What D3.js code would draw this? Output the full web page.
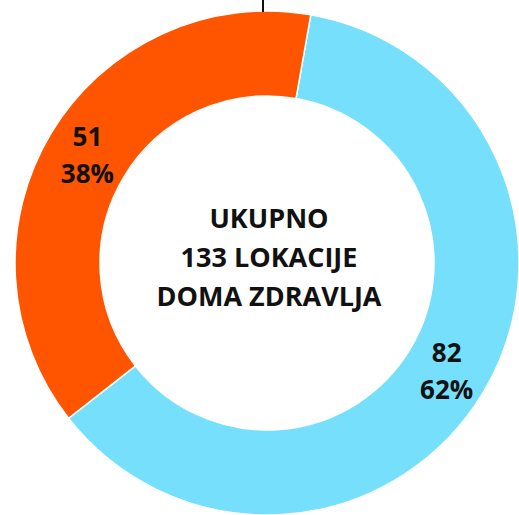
<!DOCTYPE html>
<html>
<head>
<meta charset="utf-8">
<script src="https://cdn.jsdelivr.net/npm/d3@7"></script>
<style>
  html, body { margin: 0; padding: 0; background: #fff; }
  svg { display: block; }
  text { font-family: "Open Sans", "Noto Sans", sans-serif; font-weight: 700; fill: #111; }
</style>
</head>
<body>
<div id="main"></div>
<script>
const categories = ["Ostalo", "Domovi zdravlja"];
const values = [82, 51];
const colors = ["#75DFFC", "#FF5500"];
const centerLines = ["UKUPNO", "133 LOKACIJE", "DOMA ZDRAVLJA"];

const width = 519;
const height = 515;
const cx = 267;
const cy = 263;
const outerR = 252;
const innerR = 167;
const rotation = 10 * Math.PI / 180;

const total = d3.sum(values);

const svg = d3.select("#main")
  .append("svg")
  .attr("width", width)
  .attr("height", height);

const g = svg.append("g")
  .attr("transform", "translate(" + cx + "," + cy + ")");

const pie = d3.pie()
  .sort(null)
  .value(d => d)
  .startAngle(rotation)
  .endAngle(rotation + 2 * Math.PI);

const arc = d3.arc()
  .innerRadius(innerR)
  .outerRadius(outerR);

const slices = pie(values);

g.selectAll("path")
  .data(slices)
  .enter()
  .append("path")
  .attr("d", arc)
  .style("fill", (d, i) => colors[i])
  .style("stroke", "#fff")
  .style("stroke-width", 1.5);

// labels: value + percent at the arc centroid
const labels = g.selectAll("g.label")
  .data(slices)
  .enter()
  .append("g")
  .attr("class", "label")
  .attr("transform", d => "translate(" + arc.centroid(d) + ")");

labels.append("text")
  .attr("text-anchor", "middle")
  .attr("y", -9)
  .style("font-size", "26px")
  .text(d => d.data);

labels.append("text")
  .attr("text-anchor", "middle")
  .attr("y", 28)
  .style("font-size", "26px")
  .text(d => Math.round(d.data / total * 100) + "%");

// center title
g.selectAll("text.center")
  .data(centerLines)
  .enter()
  .append("text")
  .attr("class", "center")
  .attr("text-anchor", "middle")
  .attr("x", 2)
  .attr("y", (d, i) => -35 + i * 39)
  .style("font-size", "27px")
  .text(d => d);

// small leader tick at the top
g.append("line")
  .attr("x1", -4)
  .attr("x2", -4)
  .attr("y1", -cy)
  .attr("y2", -outerR + 1)
  .style("stroke", "#111")
  .style("stroke-width", 2);
</script>
</body>
</html>
